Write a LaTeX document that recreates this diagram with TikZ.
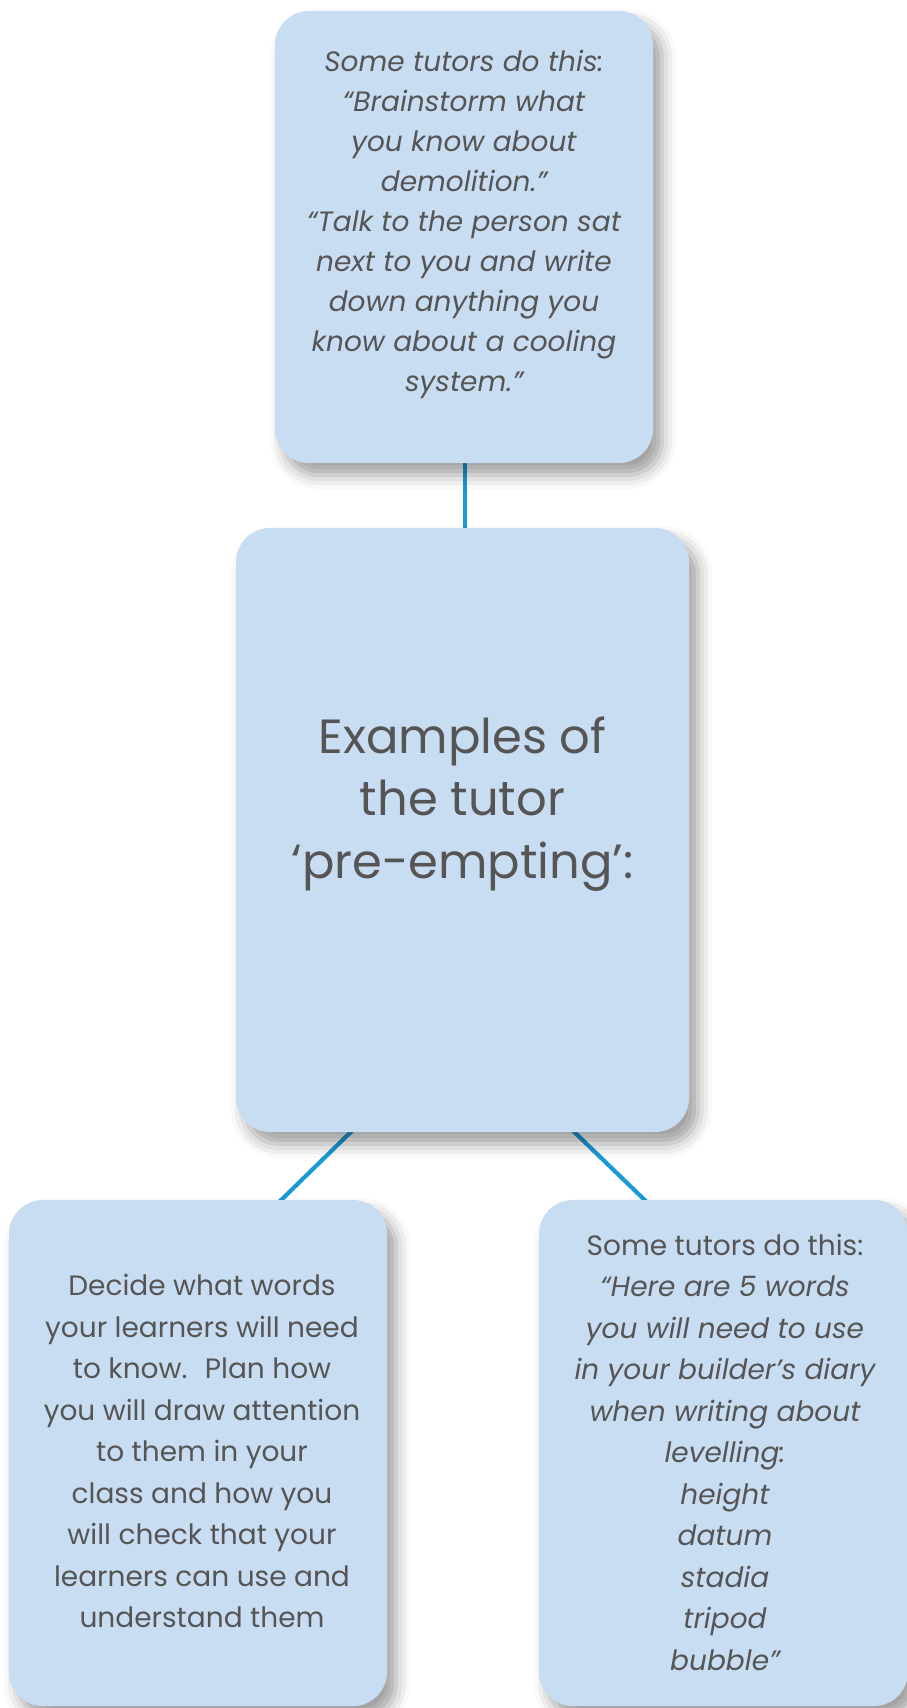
\documentclass[tikz,border=0pt]{standalone}
\usepackage{fontspec}
\setmainfont{Poppins}
\usetikzlibrary{calc,shadows.blur}
\definecolor{boxfill}{HTML}{C9DDF2}
\definecolor{inktext}{HTML}{555555}
\definecolor{linkblue}{HTML}{1C9AD6}
\tikzset{
  card/.style={draw=none, fill=boxfill, rounded corners=34pt, inner sep=0pt,
    blur shadow={shadow xshift=9pt, shadow yshift=-12pt, shadow blur radius=14pt, shadow opacity=38}},
  cardtext/.style={text=inktext, align=center, inner sep=0pt, font=\fontsize{28}{41.5}\selectfont},
  link/.style={draw=linkblue, line width=4.2pt}
}
\begin{document}
\begin{tikzpicture}[x=1pt,y=-1pt]
  \useasboundingbox (0,0) rectangle (907,1708);
  \clip (0,0) rectangle (907,1708);

  % connectors, under the cards
  \coordinate (topfoot) at (465,440);
  \coordinate (midhead) at (465,560);
  \draw[link] (topfoot) -- (midhead);
  \coordinate (midL) at (359,1124);
  \coordinate (blTop) at (273,1208);
  \coordinate (midR) at (566,1124);
  \coordinate (brTop) at (653,1208);
  \draw[link] (midL) -- (blTop);
  \draw[link] (midR) -- (brTop);

  % cards
  \node[card, minimum width=378pt, minimum height=452pt] (top) at (464,237) {};
  \node[card, minimum width=453pt, minimum height=604pt] (mid) at (462.5,830) {};
  \node[card, minimum width=378pt, minimum height=506pt] (bl) at (198,1453) {};
  \node[card, minimum width=369pt, minimum height=506pt] (br) at (723.5,1453) {};

  % texts
  \node[cardtext, font=\fontsize{28}{40}\selectfont\itshape] (toptext) at (464,224)
    {Some tutors do this:\\“Brainstorm what\\you know about\\demolition.”\\“Talk to the person sat\\next to you and write\\down anything you\\know about a cooling\\system.”};
  \node[cardtext, font=\fontsize{48}{62.6}\selectfont] (midtext) at (462.5,804)
    {Examples of\\the tutor\\‘pre-empting’:};
  \node[cardtext] (bltext) at (202,1451)
    {Decide what words\\your learners will need\\to know.~ Plan how\\you will draw attention\\to them in your\\class and how you\\will check that your\\learners can use and\\understand them};
  \node[cardtext] (brtext) at (725,1452)
    {Some tutors do this:\\\itshape “Here are 5 words\\\itshape you will need to use\\\itshape in your builder’s diary\\\itshape when writing about\\\itshape levelling:\\\itshape height\\\itshape datum\\\itshape stadia\\\itshape tripod\\\itshape bubble”};
\end{tikzpicture}
\end{document}
